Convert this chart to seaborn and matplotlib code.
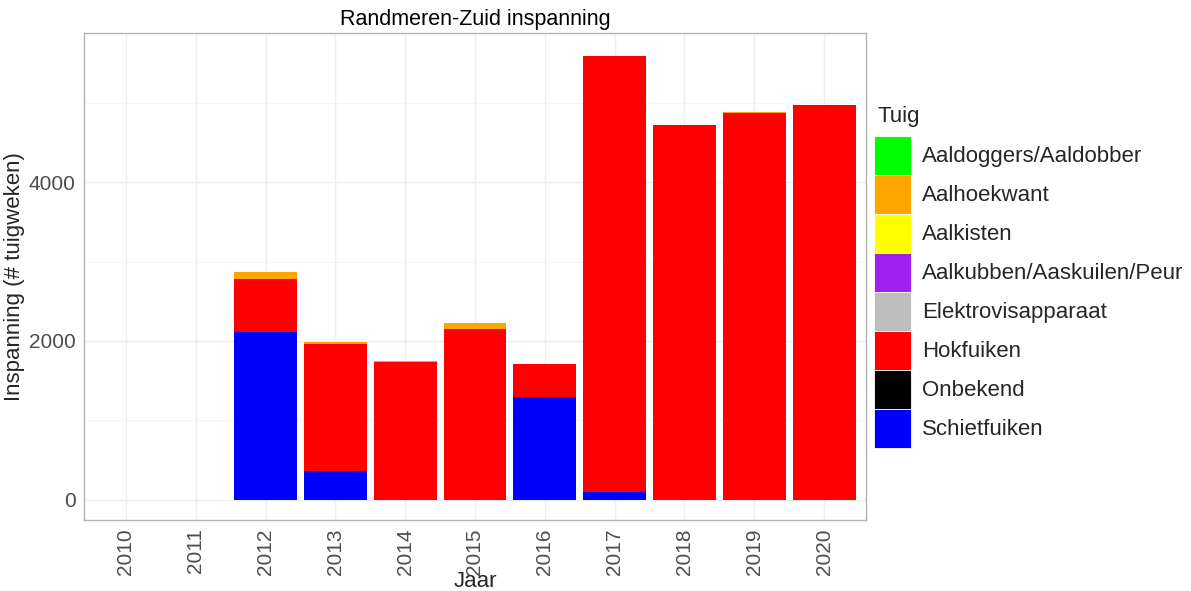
import pandas as pd
import matplotlib
matplotlib.use("Agg")
import matplotlib.pyplot as plt
from matplotlib.patches import Patch
from matplotlib.ticker import MultipleLocator
import seaborn as sns

# data (tuigweken per jaar)
jaren = ["2010", "2011", "2012", "2013", "2014", "2015", "2016", "2017", "2018", "2019", "2020"]
aaldoggers = [0, 0, 0, 0, 0, 0, 0, 0, 0, 0, 0]
aalhoekwant = [0, 0, 88, 17, 12, 72, 0, 0, 0, 16, 0]
aalkisten = [0, 0, 0, 0, 0, 0, 0, 0, 0, 0, 0]
aalkubben = [0, 0, 0, 0, 0, 0, 0, 0, 0, 0, 0]
elektrovis = [0, 0, 0, 0, 0, 0, 0, 0, 0, 0, 0]
hokfuiken = [0, 0, 660, 1604, 1739, 2151, 424, 5498, 4721, 4869, 4977]
onbekend = [0, 0, 0, 0, 0, 0, 0, 0, 0, 0, 0]
schietfuiken = [0, 0, 2117, 362, 0, 0, 1290, 93, 0, 0, 0]

tuig_namen = ["Aaldoggers/Aaldobber", "Aalhoekwant", "Aalkisten", "Aalkubben/Aaskuilen/Peur",
              "Elektrovisapparaat", "Hokfuiken", "Onbekend", "Schietfuiken"]
kleuren = ["#00FF00", "#FFA500", "#FFFF00", "#A020F0", "#BEBEBE", "#FF0000", "#000000", "#0000FF"]

reeksen = [aaldoggers, aalhoekwant, aalkisten, aalkubben, elektrovis, hokfuiken, onbekend, schietfuiken]

df = pd.DataFrame({naam: waarden for naam, waarden in zip(tuig_namen, reeksen)}, index=jaren)

# stapelen zoals ggplot: laatste niveau onderaan
stapel = df[tuig_namen[::-1]].cumsum(axis=1)

sns.set_style("white")
plt.rcParams['font.family'] = ['Liberation Sans', 'DejaVu Sans']

fig = plt.figure(figsize=(11.91, 5.91), dpi=100)
ax = fig.add_axes([0.0705, 0.1201, 0.6566, 0.8241])

# hoogste cumulatieve laag eerst tekenen, dan de lagere eroverheen
for naam in tuig_namen:
    kleur = kleuren[tuig_namen.index(naam)]
    laag = pd.DataFrame({"Jaar": jaren, "cum": stapel[naam].values})
    sns.barplot(data=laag, x="Jaar", y="cum", order=jaren, color=kleur, saturation=1,
                width=0.9, linewidth=0, ax=ax, zorder=2)

ax.set_xlim(-0.6, len(jaren) - 0.4)
ax.set_ylim(-256, 5880)
ax.yaxis.set_major_locator(MultipleLocator(2000))
ax.yaxis.set_minor_locator(MultipleLocator(1000))
ax.set_axisbelow(True)
ax.grid(True, which="major", axis="both", color="#EEEEEE", linewidth=1.0, zorder=0)
ax.grid(True, which="minor", axis="y", color="#F4F4F4", linewidth=0.6, zorder=0)

for s in ax.spines.values():
    s.set_color("#B3B3B3")
    s.set_linewidth(1.0)

ax.tick_params(axis="both", which="major", length=4, width=0.8, color="#B3B3B3",
               labelsize=15, labelcolor="#4D4D4D", pad=2)
ax.tick_params(axis="y", which="minor", length=0)
ax.tick_params(axis="x", labelrotation=90)

ax.set_title("Randmeren-Zuid inspanning", fontsize=15.5, color="black", pad=6)
ax.set_xlabel("Jaar", fontsize=16, labelpad=-3)
ax.set_ylabel("Inspanning (# tuigweken)", fontsize=16, labelpad=3)

# legende: titel los gezet zodat de afstand tot de eerste sleutel klopt
fig.text(877 / 1191, 1 - 106 / 591, "Tuig", fontsize=16, ha="left", va="top")
handles = [Patch(facecolor=k, edgecolor="white", linewidth=0.6) for k in kleuren]
fig.legend(handles, tuig_namen, loc="upper left",
           bbox_to_anchor=(874 / 1191, 1 - 136 / 591), frameon=False,
           fontsize=16, handlelength=1.67, handleheight=2.32, labelspacing=0.0,
           handletextpad=0.5, borderpad=0, borderaxespad=0)

fig.savefig("out.png", dpi=100)
